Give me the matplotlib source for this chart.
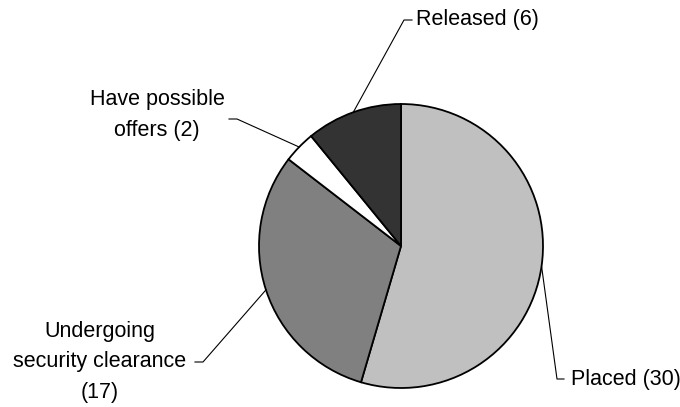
import numpy as np
import matplotlib.pyplot as plt

plt.rcParams['font.family'] = ['Liberation Sans', 'DejaVu Sans']

# Data
labels = ["Placed (30)", "Undergoing\nsecurity clearance\n(17)", "Have possible\noffers (2)", "Released (6)"]
counts = [30, 17, 2, 6]
colors = ["#c0c0c0", "#808080", "#ffffff", "#333333"]

# pixel helpers (figure is 680x407, pie centred at 401,246 with radius 142 px)
CX, CY, R = 401, 246, 142


def px(x, y):
    return (x - CX) / R, (CY - y) / R


fig = plt.figure(figsize=(6.8, 4.07), dpi=100)
ax = fig.add_axes([0, 0, 1, 1])
wedges, _ = ax.pie(counts, colors=colors, startangle=90, counterclock=False,
                   radius=1, wedgeprops=dict(edgecolor="black", linewidth=1.3))
ax.set_xlim(-CX / R, (680 - CX) / R)
ax.set_ylim((CY - 407) / R, CY / R)
ax.set_aspect("equal")
ax.axis("off")

# label layout: elbow point, elbow end, text anchor, alignment
layout = [
    ((557, 379), (564, 379), (571, 380), "left"),
    ((203, 362), (195, 362), (100, 362), "center"),
    ((237, 119), (229, 119), (157, 115), "center"),
    ((404, 20), (412, 20), (416, 19), "left"),
]

for w, lab, (elb, end, txt, ha) in zip(wedges, labels, layout):
    mid = np.deg2rad((w.theta1 + w.theta2) / 2)
    sx, sy = np.cos(mid), np.sin(mid)
    ex, ey = px(*elb)
    fx, fy = px(*end)
    ax.plot([sx, ex, fx], [sy, ey, fy], color="black", linewidth=0.8)
    tx, ty = px(*txt)
    ax.text(tx, ty, lab, ha=ha, va="center", fontsize=15.5,
            multialignment="center", linespacing=1.6)

plt.savefig("out.png", dpi=100)
